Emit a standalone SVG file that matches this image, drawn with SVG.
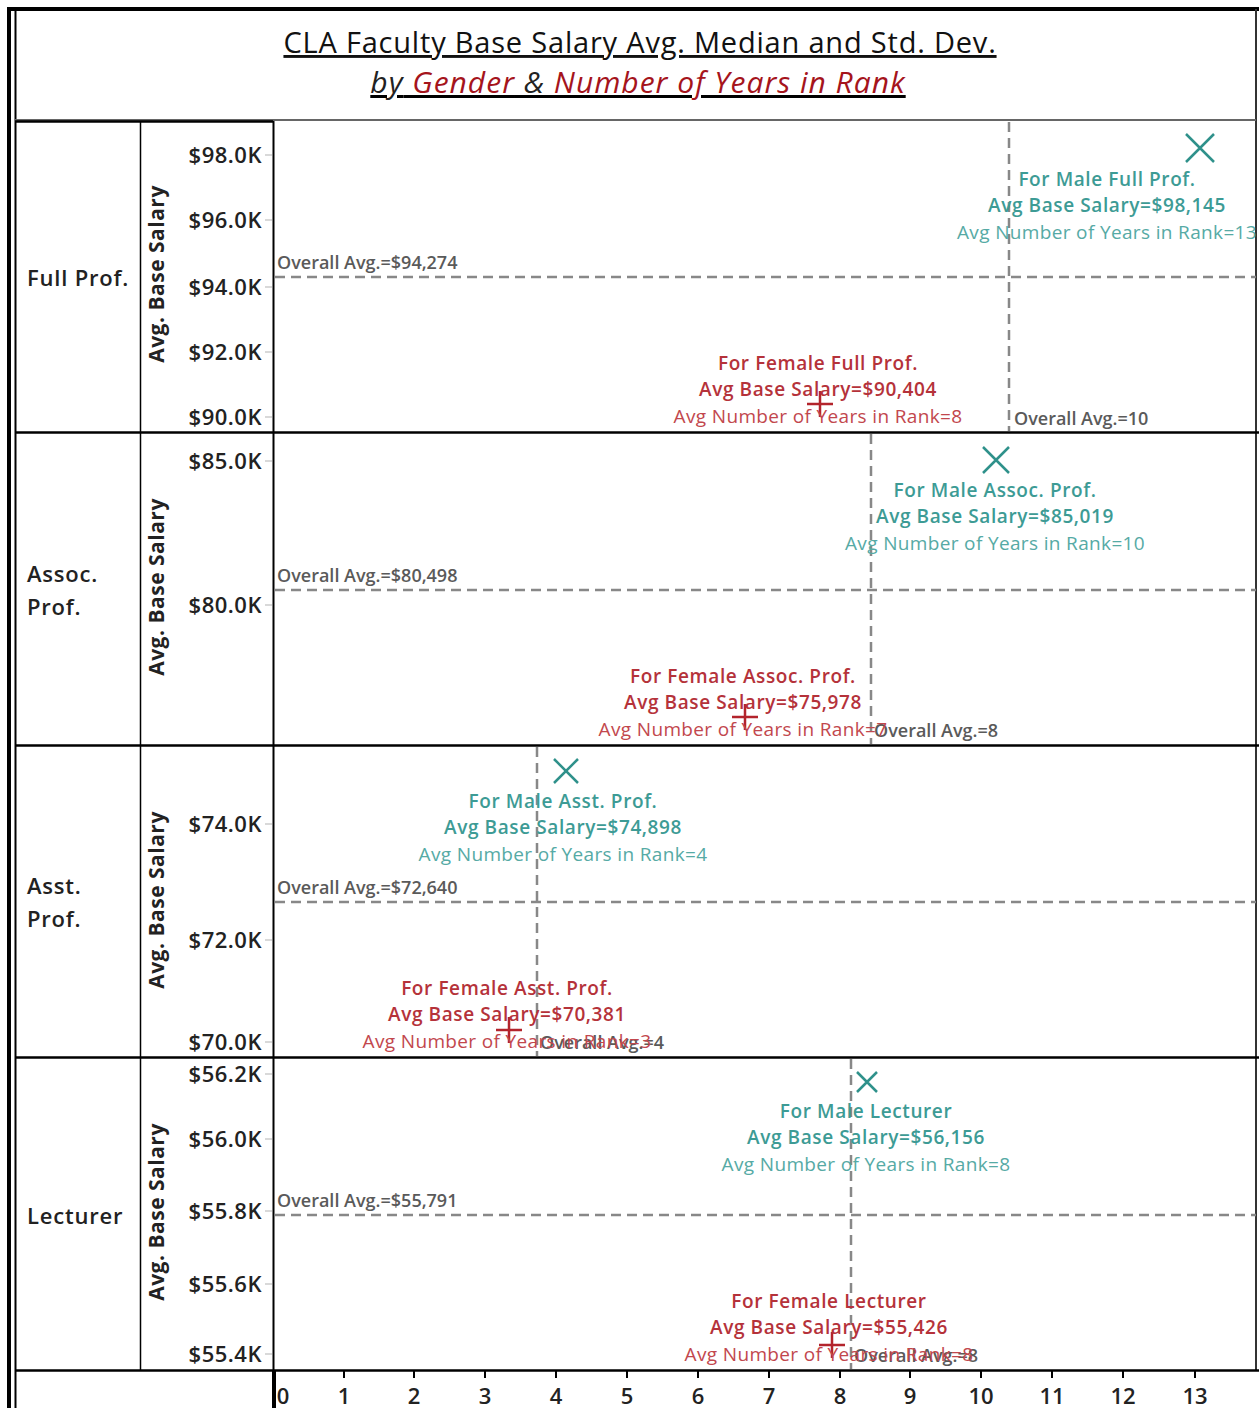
<svg xmlns="http://www.w3.org/2000/svg" width="1259" height="1408" viewBox="0 0 1259 1408">
<style>
text{font-family:"Open Sans","Noto Sans",sans-serif;}
.title{font-size:29px;fill:#111;text-decoration:underline;letter-spacing:0.8px;}
.sub{font-size:30px;font-style:italic;text-decoration:underline;letter-spacing:1px;}
.row{font-size:22px;fill:#222;font-weight:600;letter-spacing:0.8px;}
.yl{font-size:22px;fill:#222;font-weight:600;letter-spacing:0.5px;text-anchor:end;}
.ax{font-size:21px;font-weight:bold;fill:#222;text-anchor:middle;letter-spacing:0.5px;}
.xl{font-size:22px;font-weight:600;fill:#222;text-anchor:middle;}
.ov{font-size:18px;fill:#5a5a5a;font-weight:600;}
.m1{font-size:19px;fill:#3d9b95;font-weight:600;text-anchor:middle;letter-spacing:0.6px;}
.m3{font-size:19px;fill:#56aaa5;text-anchor:middle;letter-spacing:0.35px;}
.f1{font-size:19px;fill:#b5323a;font-weight:600;text-anchor:middle;letter-spacing:0.6px;}
.f3{font-size:19px;fill:#c2474d;text-anchor:middle;letter-spacing:0.35px;}
.hd{stroke:#888;stroke-width:2.5;stroke-dasharray:10 6;fill:none;}
.vd{stroke:#888;stroke-width:2.5;stroke-dasharray:10 6;fill:none;}
.mx{stroke:#2f918b;stroke-width:2.5;fill:none;}
.fp{stroke:#b3242c;stroke-width:2.5;fill:none;}
.b{stroke:#000;fill:none;}
.tk{stroke:#ccc;stroke-width:1.5;}
</style>
<rect width="1259" height="1408" fill="#fff"/>
<g id="frame">
<line class="b" x1="7" y1="9" x2="1259" y2="9" stroke-width="4"/>
<line class="b" x1="9" y1="7" x2="9" y2="1408" stroke-width="4"/>
<line class="b" x1="15.5" y1="9" x2="15.5" y2="1408" stroke-width="2"/>
<line x1="1256" y1="9" x2="1256" y2="1370" stroke="#333" stroke-width="2"/>
<line x1="15" y1="120" x2="1256" y2="120" stroke="#666" stroke-width="2"/>
<line class="b" x1="15" y1="121.5" x2="273" y2="121.5" stroke-width="2.5"/>
<line class="b" x1="15" y1="432.5" x2="1259" y2="432.5" stroke-width="2.5"/>
<line class="b" x1="15" y1="745.5" x2="1259" y2="745.5" stroke-width="2.5"/>
<line class="b" x1="15" y1="1057.5" x2="1259" y2="1057.5" stroke-width="2.5"/>
<line class="b" x1="15" y1="1370.5" x2="1259" y2="1370.5" stroke-width="2.5"/>
<line class="b" x1="140.5" y1="121" x2="140.5" y2="1370" stroke-width="1.5"/>
<line class="b" x1="273.5" y1="121" x2="273.5" y2="1370" stroke-width="2"/>
<line class="b" x1="274" y1="1370" x2="274" y2="1408" stroke-width="4"/>
</g>
<g id="title">
<text class="title" x="640" y="53" text-anchor="middle">CLA Faculty Base Salary Avg. Median and Std. Dev.</text>
<text class="sub" x="638" y="93" text-anchor="middle"><tspan fill="#222">by</tspan><tspan fill="#a5141c"> Gender</tspan><tspan fill="#222"> &amp;</tspan><tspan fill="#a5141c"> Number of Years in Rank</tspan></text>
</g>
<g id="row-labels">
<text class="row" x="27" y="286">Full Prof.</text>
<text class="row" x="27" y="582">Assoc.</text>
<text class="row" x="27" y="615">Prof.</text>
<text class="row" x="27" y="894">Asst.</text>
<text class="row" x="27" y="927">Prof.</text>
<text class="row" x="27" y="1224">Lecturer</text>
<text class="ax" transform="translate(164,274) rotate(-90)">Avg. Base Salary</text>
<text class="ax" transform="translate(164,587) rotate(-90)">Avg. Base Salary</text>
<text class="ax" transform="translate(164,900) rotate(-90)">Avg. Base Salary</text>
<text class="ax" transform="translate(164,1212) rotate(-90)">Avg. Base Salary</text>
</g>
<g id="y-axes">
<text class="yl" x="262" y="163">$98.0K</text>
<text class="yl" x="262" y="228">$96.0K</text>
<text class="yl" x="262" y="295">$94.0K</text>
<text class="yl" x="262" y="360">$92.0K</text>
<text class="yl" x="262" y="425">$90.0K</text>
<text class="yl" x="262" y="469">$85.0K</text>
<text class="yl" x="262" y="613">$80.0K</text>
<text class="yl" x="262" y="832">$74.0K</text>
<text class="yl" x="262" y="948">$72.0K</text>
<text class="yl" x="262" y="1050">$70.0K</text>
<text class="yl" x="262" y="1082">$56.2K</text>
<text class="yl" x="262" y="1147">$56.0K</text>
<text class="yl" x="262" y="1219">$55.8K</text>
<text class="yl" x="262" y="1292">$55.6K</text>
<text class="yl" x="262" y="1362">$55.4K</text>
<g class="tk">
<line x1="265" y1="155" x2="272" y2="155"/><line x1="265" y1="220" x2="272" y2="220"/><line x1="265" y1="287" x2="272" y2="287"/><line x1="265" y1="352" x2="272" y2="352"/><line x1="265" y1="417" x2="272" y2="417"/>
<line x1="265" y1="461" x2="272" y2="461"/><line x1="265" y1="605" x2="272" y2="605"/>
<line x1="265" y1="824" x2="272" y2="824"/><line x1="265" y1="940" x2="272" y2="940"/><line x1="265" y1="1042" x2="272" y2="1042"/>
<line x1="265" y1="1074" x2="272" y2="1074"/><line x1="265" y1="1139" x2="272" y2="1139"/><line x1="265" y1="1211" x2="272" y2="1211"/><line x1="265" y1="1284" x2="272" y2="1284"/><line x1="265" y1="1354" x2="272" y2="1354"/>
</g>
</g>
<g id="x-axis">
<g stroke="#000" stroke-width="2">
<line x1="344" y1="1371" x2="344" y2="1378"/><line x1="414" y1="1371" x2="414" y2="1378"/><line x1="485" y1="1371" x2="485" y2="1378"/><line x1="556" y1="1371" x2="556" y2="1378"/><line x1="627" y1="1371" x2="627" y2="1378"/><line x1="698" y1="1371" x2="698" y2="1378"/><line x1="769" y1="1371" x2="769" y2="1378"/><line x1="840" y1="1371" x2="840" y2="1378"/><line x1="910" y1="1371" x2="910" y2="1378"/><line x1="981" y1="1371" x2="981" y2="1378"/><line x1="1052" y1="1371" x2="1052" y2="1378"/><line x1="1123" y1="1371" x2="1123" y2="1378"/><line x1="1195" y1="1371" x2="1195" y2="1378"/>
</g>
<text class="xl" x="283" y="1404">0</text>
<text class="xl" x="344" y="1404">1</text>
<text class="xl" x="414" y="1404">2</text>
<text class="xl" x="485" y="1404">3</text>
<text class="xl" x="556" y="1404">4</text>
<text class="xl" x="627" y="1404">5</text>
<text class="xl" x="698" y="1404">6</text>
<text class="xl" x="769" y="1404">7</text>
<text class="xl" x="840" y="1404">8</text>
<text class="xl" x="910" y="1404">9</text>
<text class="xl" x="981" y="1404">10</text>
<text class="xl" x="1052" y="1404">11</text>
<text class="xl" x="1123" y="1404">12</text>
<text class="xl" x="1195" y="1404">13</text>
</g>
<g id="connectors">
<line class="hd" x1="275" y1="277" x2="1256" y2="277"/>
<line class="hd" x1="275" y1="590" x2="1256" y2="590"/>
<line class="hd" x1="275" y1="902" x2="1256" y2="902"/>
<line class="hd" x1="275" y1="1215" x2="1256" y2="1215"/>
<line class="vd" x1="1009" y1="122" x2="1009" y2="431"/>
<line class="vd" x1="871" y1="434" x2="871" y2="744"/>
<line class="vd" x1="537" y1="747" x2="537" y2="1056"/>
<line class="vd" x1="851" y1="1059" x2="851" y2="1369"/>
</g>
<g id="overall-labels">
<text class="ov" x="277" y="269">Overall Avg.=$94,274</text>
<text class="ov" x="277" y="582">Overall Avg.=$80,498</text>
<text class="ov" x="277" y="894">Overall Avg.=$72,640</text>
<text class="ov" x="277" y="1207">Overall Avg.=$55,791</text>
<text class="ov" x="1014" y="425">Overall Avg.=10</text>
<text class="ov" x="874" y="737">Overall Avg.=8</text>
<text class="ov" x="540" y="1049">Overall Avg.=4</text>
<text class="ov" x="854" y="1362">Overall Avg.=8</text>
</g>
<g id="male-full">
<path class="mx" d="M1186 134 L1214 162 M1214 134 L1186 162"/>
<text class="m1" x="1107" y="186">For Male Full Prof.</text>
<text class="m1" x="1107" y="212">Avg Base Salary=$98,145</text>
<text class="m3" x="1107" y="239">Avg Number of Years in Rank=13</text>
</g>
<g id="female-full">
<path class="fp" d="M807 404 L833 404 M820 391 L820 417"/>
<text class="f1" x="818" y="370">For Female Full Prof.</text>
<text class="f1" x="818" y="396">Avg Base Salary=$90,404</text>
<text class="f3" x="818" y="423">Avg Number of Years in Rank=8</text>
</g>
<g id="male-assoc">
<path class="mx" d="M983 447 L1009 473 M1009 447 L983 473"/>
<text class="m1" x="995" y="497">For Male Assoc. Prof.</text>
<text class="m1" x="995" y="523">Avg Base Salary=$85,019</text>
<text class="m3" x="995" y="550">Avg Number of Years in Rank=10</text>
</g>
<g id="female-assoc">
<path class="fp" d="M732 717 L758 717 M745 704 L745 730"/>
<text class="f1" x="743" y="683">For Female Assoc. Prof.</text>
<text class="f1" x="743" y="709">Avg Base Salary=$75,978</text>
<text class="f3" x="743" y="736">Avg Number of Years in Rank=7</text>
</g>
<g id="male-asst">
<path class="mx" d="M554 759 L578 783 M578 759 L554 783"/>
<text class="m1" x="563" y="808">For Male Asst. Prof.</text>
<text class="m1" x="563" y="834">Avg Base Salary=$74,898</text>
<text class="m3" x="563" y="861">Avg Number of Years in Rank=4</text>
</g>
<g id="female-asst">
<path class="fp" d="M496 1030 L522 1030 M509 1017 L509 1043"/>
<text class="f1" x="507" y="995">For Female Asst. Prof.</text>
<text class="f1" x="507" y="1021">Avg Base Salary=$70,381</text>
<text class="f3" x="507" y="1048">Avg Number of Years in Rank=3</text>
</g>
<g id="male-lecturer">
<path class="mx" d="M857 1072 L877 1092 M877 1072 L857 1092"/>
<text class="m1" x="866" y="1118">For Male Lecturer</text>
<text class="m1" x="866" y="1144">Avg Base Salary=$56,156</text>
<text class="m3" x="866" y="1171">Avg Number of Years in Rank=8</text>
</g>
<g id="female-lecturer">
<path class="fp" d="M819 1345 L845 1345 M832 1332 L832 1358"/>
<text class="f1" x="829" y="1308">For Female Lecturer</text>
<text class="f1" x="829" y="1334">Avg Base Salary=$55,426</text>
<text class="f3" x="829" y="1361">Avg Number of Years in Rank=8</text>
</g>
</svg>
